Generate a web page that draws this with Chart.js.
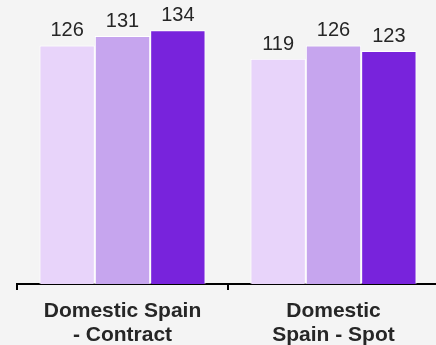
<!DOCTYPE html>
<html>
<head>
<meta charset="utf-8">
<script src="https://cdn.jsdelivr.net/npm/chart.js@4/dist/chart.umd.min.js"></script>
<style>
    html, body { margin: 0; padding: 0; background: #f4f4f4; overflow: hidden; }
    #wrap { width: 440px; height: 345px; }
</style>
</head>
<body>
<div id="wrap"><canvas id="price_chart" width="440" height="345"></canvas></div>
<script>
// categories (two-line labels) and the three series per category
const categories = [["Domestic Spain", "- Contract"], ["Domestic", "Spain - Spot"]];
const seriesA = [126, 119];
const seriesB = [131, 126];
const seriesC = [134, 123];

const colors = ["#e8d4fa", "#c6a5ee", "#7823dc"];

// writes the value above each bar
const valueLabels = {
    id: "valueLabels",
    afterDatasetsDraw: (chart) => {
        const ctx = chart.ctx;
        ctx.save();
        ctx.font = "20px 'Liberation Sans', Arial, sans-serif";
        ctx.fillStyle = "#262626";
        ctx.textAlign = "center";
        ctx.textBaseline = "alphabetic";
        chart.data.datasets.forEach((ds, i) => {
            chart.getDatasetMeta(i).data.forEach((bar, j) => {
                ctx.fillText(ds.data[j], bar.x, bar.y - 9);
            });
        });
        ctx.restore();
    }
};

new Chart("price_chart", {
    type: "bar",
    data: {
        labels: categories,
        datasets: [seriesA, seriesB, seriesC].map((values, i) => ({
            data: values,
            backgroundColor: colors[i],
            borderColor: "#ffffff",
            borderWidth: 1,
            barPercentage: 1,
            categoryPercentage: 0.787
        }))
    },
    options: {
        responsive: false,
        animation: false,
        layout: { padding: { left: 17, right: 1, top: 0, bottom: 0 } },
        plugins: {
            legend: { display: false },
            tooltip: { enabled: false }
        },
        scales: {
            x: {
                offset: true,
                border: { display: true, color: "#000000", width: 2 },
                grid: {
                    offset: true,
                    drawOnChartArea: false,
                    drawTicks: true,
                    tickLength: 6,
                    color: "#000000",
                    lineWidth: 2
                },
                ticks: {
                    color: "#262626",
                    padding: 9,
                    maxRotation: 0,
                    autoSkip: false,
                    font: { family: "'Liberation Sans', Arial, sans-serif", size: 21, weight: "bold", lineHeight: 1.14 }
                },
                afterFit: (scale) => { scale.height = 61; }
            },
            y: {
                display: false,
                min: 0,
                max: 150
            }
        }
    },
    plugins: [valueLabels]
});
</script>
</body>
</html>
